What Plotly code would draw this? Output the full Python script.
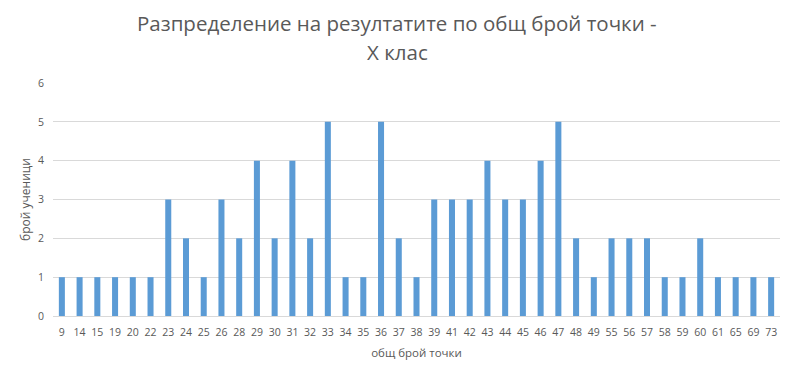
import plotly.graph_objects as go

categories = ["9", "14", "15", "19", "20", "22", "23", "24", "25", "26", "28", "29", "30", "31",
              "32", "33", "34", "35", "36", "37", "38", "39", "41", "42", "43", "44", "45", "46",
              "47", "48", "49", "55", "56", "57", "58", "59", "60", "61", "65", "69", "73"]
counts = [1, 1, 1, 1, 1, 1, 3, 2, 1, 3, 2, 4, 2, 4,
          2, 5, 1, 1, 5, 2, 1, 3, 3, 3, 4, 3, 3, 4,
          5, 2, 1, 2, 2, 2, 1, 1, 2, 1, 1, 1, 1]

title_lines = ["Разпределение на резултатите по общ брой точки -", "X клас"]
x_title = "общ брой точки"
y_title = "брой ученици"

W, H = 785, 363
L, R, T, B = 45, 13, 75, 55
pw, ph = W - L - R, H - T - B

fig = go.Figure(go.Bar(x=categories, y=counts, marker_color="#5B9BD5", marker_line_width=0))

for line, ypix in zip(title_lines, [15, 44]):
    fig.add_annotation(text=line, xref="paper", yref="paper", x=(389 - L) / pw,
                       y=(H - B - ypix) / ph, xanchor="center", yanchor="middle",
                       showarrow=False, font=dict(size=20.5, color="#595959", family="Open Sans"))

fig.update_layout(
    width=W, height=H,
    margin=dict(l=L, r=R, t=T, b=B),
    paper_bgcolor="white", plot_bgcolor="white",
    bargap=0.66,
    font=dict(family="Open Sans", color="#595959", size=10),
    showlegend=False,
)
fig.update_xaxes(type="category", title=dict(text=x_title, font=dict(size=11.5), standoff=11),
                 showline=True, linecolor="#D9D9D9", ticks="", tickfont=dict(size=10.5),
                 ticklabelstandoff=6, showgrid=False, automargin=False)
fig.update_yaxes(range=[0, 6], dtick=1, showgrid=True, gridcolor="#D9D9D9",
                 title=dict(text=y_title, font=dict(size=12), standoff=4),
                 zeroline=False, ticks="", tickfont=dict(size=10.5), ticklabelstandoff=8,
                 automargin=False)

fig.write_html("out.html")
